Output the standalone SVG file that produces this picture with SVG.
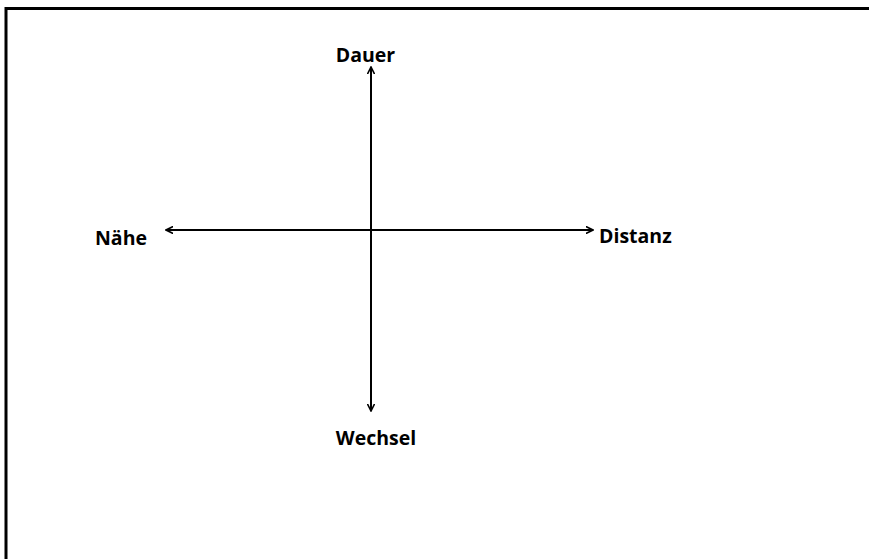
<svg xmlns="http://www.w3.org/2000/svg" width="869" height="559" viewBox="0 0 869 559">
<defs>
<style>
.lbl{font-family:"Open Sans","Liberation Sans",sans-serif;font-weight:bold;font-size:19.5px;fill:#000}
.ax{stroke:#000;stroke-width:2;fill:none}
</style>
<marker id="ah" viewBox="0 0 10 10" refX="9" refY="5" markerWidth="8" markerHeight="8" orient="auto-start-reverse" markerUnits="userSpaceOnUse">
<path d="M0,0.5 L9,5 L0,9.5" fill="none" stroke="#000" stroke-width="2"/>
</marker>
</defs>
<rect width="869" height="559" fill="#fff"/>
<path d="M6,559 V8.5 H869" stroke="#000" stroke-width="3" fill="none"/>
<g id="connectors">
<line class="ax" x1="371" y1="411" x2="371" y2="67" marker-end="url(#ah)" marker-start="url(#ah)"/>
<line class="ax" x1="166" y1="230" x2="593" y2="230" marker-end="url(#ah)" marker-start="url(#ah)"/>
</g>
<g id="dauer"><text class="lbl" x="365.5" y="62" text-anchor="middle">Dauer</text></g>
<g id="naehe"><text class="lbl" x="95" y="245">Nähe</text></g>
<g id="distanz"><text class="lbl" x="599" y="243">Distanz</text></g>
<g id="wechsel"><text class="lbl" x="376" y="445" text-anchor="middle">Wechsel</text></g>
</svg>
